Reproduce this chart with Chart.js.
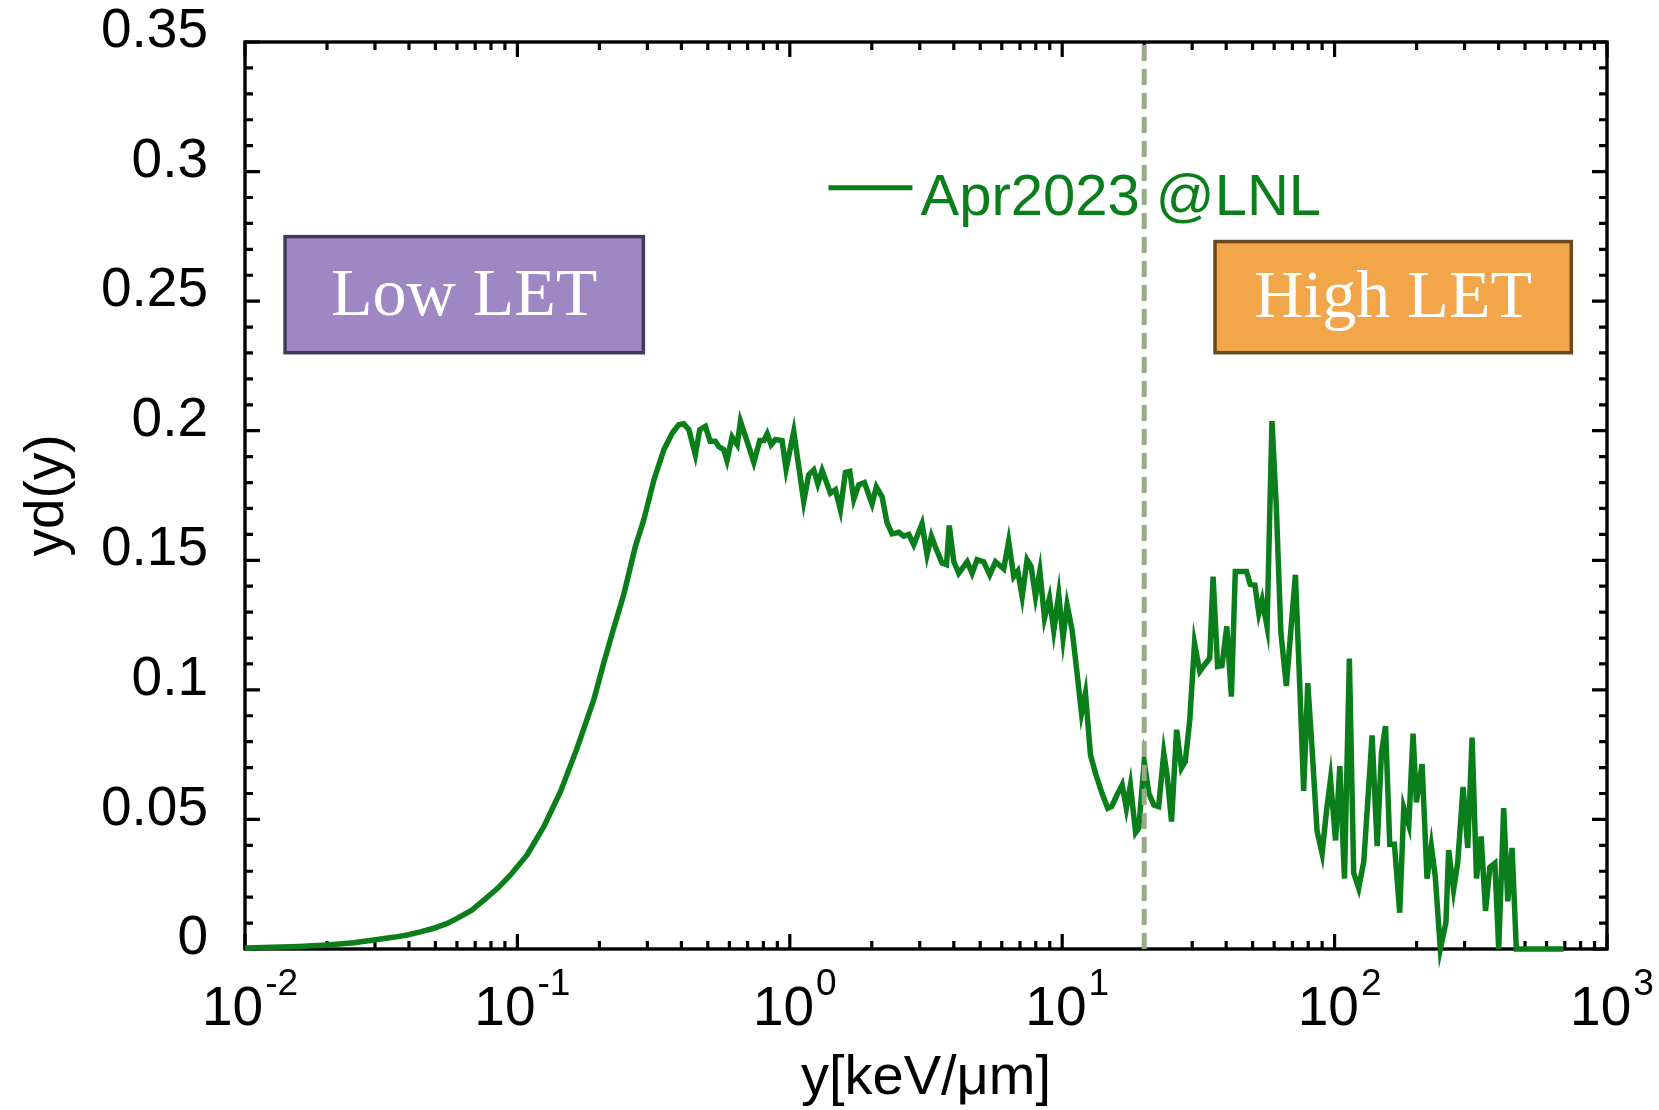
<!DOCTYPE html>
<html>
<head>
<meta charset="utf-8">
<script src="https://cdn.jsdelivr.net/npm/chart.js@4.4.1/dist/chart.umd.min.js"></script>
<style>
html,body{margin:0;padding:0;background:#ffffff;overflow:hidden;}
#wrap{width:1659px;height:1110px;position:relative;}
</style>
</head>
<body>
<div id="wrap"><canvas id="c"></canvas></div>
<script>
// ---------------- data ----------------
const seriesLabel = 'Apr2023 @LNL';
const xTitle = 'y[keV/\u03bcm]';
const yTitle = 'yd(y)';
const lowLabel = 'Low LET';
const highLabel = 'High LET';
const thresholdY = 20; // keV/um boundary (dashed line)

// lineal energy y [keV/um]
const lineal = [
  0.0100,0.0126,0.0158,0.0200,0.0251,0.0297,0.0350,0.0394,0.0440,0.0493,
  0.0550,0.0601,0.0680,0.0753,0.0850,0.0943,0.1085,0.1250,0.1439,0.1656,
  0.1906,0.2073,0.2260,0.2460,0.2710,0.2910,0.3170,0.3450,0.3700,0.3910,
  0.4080,0.4260,0.450,0.467,0.490,0.510,0.533,0.548,0.572,0.588,
  0.614,0.641,0.659,0.697,0.738,0.776,0.803,0.826,0.854,0.886,
  0.937,0.969,1.034,1.125,1.173,1.224,1.267,1.314,1.410,1.470,
  1.534,1.600,1.660,1.718,1.791,1.879,2.004,2.079,2.182,2.276,
  2.373,2.512,2.619,2.735,2.851,3.058,3.190,3.310,3.420,3.620,
  3.760,3.850,4.000,4.170,4.480,4.670,4.870,5.150,5.420,5.690,
  6.100,6.360,6.640,6.870,7.130,7.430,7.690,7.980,8.280,8.610,
  8.980,9.310,9.710,10.07,10.42,10.87,11.34,11.77,12.17,12.70,
  13.25,14.00,14.70,15.20,15.90,16.60,17.20,17.80,18.60,19.10,
  20.00,20.80,21.70,22.60,23.60,24.30,25.20,26.30,27.40,28.30,
  29.40,30.60,32.00,33.30,34.80,35.80,37.20,38.60,40.20,41.80,
  43.20,45.40,47.50,49.00,51.00,52.70,54.20,56.50,58.90,61.10,
  63.50,66.50,71.80,74.50,77.00,79.70,82.60,86.20,90.00,93.30,
  96.60,100.8,104.5,108.7,113.3,117.5,122.6,128.0,137.3,143.3,
  148.6,153.8,159.4,165.8,173.4,179.4,187.2,194.1,199.6,209.5,
  218.4,226.5,234.2,244.4,256.3,262.2,273.4,283.0,296.2,308.1,
  319.7,331.8,345.1,358.1,371.6,387.5,400.4,417.6,432.2,448.2,
  464.6,520.0,600.0,693.0
];

// y*d(y)
const ydy = [
  0.0004,0.0007,0.0010,0.0015,0.0024,0.0035,0.0045,0.0054,0.0066,0.0080,
  0.0098,0.0118,0.0150,0.0189,0.0236,0.0286,0.0363,0.0472,0.0607,0.0775,
  0.0961,0.1103,0.1240,0.1370,0.1553,0.1656,0.1810,0.1927,0.1990,0.2023,
  0.2027,0.2004,0.1907,0.2004,0.2017,0.1959,0.1959,0.1939,0.1927,0.1885,
  0.1976,0.1946,0.2036,0.1959,0.1878,0.1962,0.1962,0.1988,0.1946,0.1966,
  0.1962,0.1852,0.1997,0.1727,0.1830,0.1849,0.1795,0.1847,0.1759,0.1772,
  0.1695,0.1839,0.1843,0.1736,0.1791,0.1800,0.1718,0.1783,0.1744,0.1644,
  0.1602,0.1608,0.1593,0.1600,0.1560,0.1641,0.1521,0.1593,0.1553,0.1489,
  0.1483,0.1634,0.1495,0.1450,0.1494,0.1450,0.1502,0.1494,0.1444,0.1494,
  0.1467,0.1573,0.1437,0.1458,0.1360,0.1502,0.1476,0.1360,0.1458,0.1277,
  0.1354,0.1229,0.1367,0.1200,0.1328,0.1232,0.1064,0.0910,0.0987,0.0749,
  0.0678,0.0601,0.0543,0.0550,0.0595,0.0633,0.0543,0.0632,0.0449,0.0466,
  0.0723,0.0601,0.0556,0.0550,0.0756,0.0666,0.0492,0.0846,0.0698,0.0723,
  0.0884,0.1180,0.1071,0.1096,0.1122,0.1437,0.1090,0.1093,0.1245,0.0974,
  0.1457,0.1457,0.1457,0.1407,0.1404,0.1295,0.1346,0.1244,0.2037,0.1706,
  0.1221,0.1015,0.1444,0.1015,0.0610,0.1026,0.0779,0.0456,0.0368,0.0529,
  0.0654,0.0419,0.0706,0.0272,0.1121,0.0294,0.0235,0.0338,0.0824,0.0397,
  0.0757,0.0860,0.0404,0.0404,0.0140,0.0544,0.0478,0.0831,0.0566,0.0713,
  0.0272,0.0397,0.0279,0.0000,0.0103,0.0382,0.0228,0.0331,0.0625,0.0390,
  0.0816,0.0272,0.0434,0.0147,0.0316,0.0331,0.0000,0.0544,0.0184,0.0390,
  0.0000,0.0000,0.0000,0.0000
];

const yTickValues = [0, 0.05, 0.1, 0.15, 0.2, 0.25, 0.3, 0.35];
const yTickLabels = ['0', '0.05', '0.1', '0.15', '0.2', '0.25', '0.3', '0.35'];
const xTickExponents = ['-2', '-1', '0', '1', '2', '3'];

// ---------------- styling / layout (not data) ----------------
const GREEN = '#0a7e1a';
const SANS = "'Liberation Sans', Arial, sans-serif";
const SERIF = "'Liberation Serif', 'Times New Roman', serif";
const annot = {
  low:  {x0: 0.01403, x1: 0.290, y0: 0.2301, y1: 0.2749, fill: '#9e87c3', stroke: '#45395a'},
  high: {x0: 36.4,    x1: 739.6, y0: 0.2301, y1: 0.2730, fill: '#f2a649', stroke: '#6a4a1f'},
  legend: {x0: 1.386, x1: 2.82, y: 0.2938}
};

const decorations = {
  id: 'decorations',
  beforeDatasetsDraw(chart) {
    const {ctx, chartArea: a, scales: {x, y}} = chart;
    ctx.save();
    ctx.strokeStyle = '#000';
    ctx.lineWidth = 3.2;
    ctx.lineCap = 'butt';
    const major = 15, minor = 8;
    ctx.beginPath();
    for (let e = -2; e <= 3; e++) {
      for (let m = 1; m <= 9; m++) {
        const v = m * Math.pow(10, e);
        if (v > 1000 * 1.0001) continue;
        const px = x.getPixelForValue(v);
        const L = (m === 1) ? major : minor;
        ctx.moveTo(px, a.bottom); ctx.lineTo(px, a.bottom - L);
        ctx.moveTo(px, a.top); ctx.lineTo(px, a.top + L);
      }
    }
    for (let i = 0; i <= 35; i++) {
      const py = y.getPixelForValue(i / 100);
      const L = (i % 5 === 0) ? major : minor;
      ctx.moveTo(a.left, py); ctx.lineTo(a.left + L, py);
      ctx.moveTo(a.right, py); ctx.lineTo(a.right - L, py);
    }
    ctx.stroke();
    ctx.lineWidth = 3.4;
    ctx.strokeRect(a.left, a.top, a.right - a.left, a.bottom - a.top);
    ctx.restore();

    // x tick labels 10^n
    ctx.save();
    ctx.fillStyle = '#000';
    ctx.textBaseline = 'alphabetic';
    ctx.textAlign = 'left';
    xTickExponents.forEach(ex => {
      const px = x.getPixelForValue(Math.pow(10, Number(ex)));
      ctx.font = '55px ' + SANS;
      const wb = ctx.measureText('10').width;
      ctx.font = '37px ' + SANS;
      const we = ctx.measureText(ex).width;
      const start = px - (wb + 2 + we) / 2 + 5;
      ctx.font = '55px ' + SANS;
      ctx.fillText('10', start, a.bottom + 76);
      ctx.font = '37px ' + SANS;
      ctx.fillText(ex, start + wb + 2, a.bottom + 46);
    });
    ctx.restore();
  },
  afterDatasetsDraw(chart) {
    const {ctx, chartArea: a, scales: {x, y}} = chart;
    // dashed threshold line
    ctx.save();
    const tx = x.getPixelForValue(thresholdY);
    ctx.strokeStyle = '#97ab89';
    ctx.lineWidth = 5;
    ctx.setLineDash([16, 8]);
    ctx.beginPath();
    ctx.moveTo(tx, a.bottom);
    ctx.lineTo(tx, a.top);
    ctx.stroke();
    ctx.restore();

    // annotation boxes
    const box = (b, text) => {
      const l = x.getPixelForValue(b.x0), r = x.getPixelForValue(b.x1);
      const t = y.getPixelForValue(b.y1), btm = y.getPixelForValue(b.y0);
      ctx.save();
      ctx.fillStyle = b.fill;
      ctx.fillRect(l, t, r - l, btm - t);
      ctx.strokeStyle = b.stroke;
      ctx.lineWidth = 3.5;
      ctx.strokeRect(l, t, r - l, btm - t);
      ctx.fillStyle = '#ffffff';
      ctx.font = '68px ' + SERIF;
      ctx.textAlign = 'center';
      ctx.textBaseline = 'middle';
      ctx.fillText(text, (l + r) / 2, (t + btm) / 2 + 2);
      ctx.restore();
    };
    box(annot.low, lowLabel);
    box(annot.high, highLabel);

    // legend
    ctx.save();
    const lx0 = x.getPixelForValue(annot.legend.x0), lx1 = x.getPixelForValue(annot.legend.x1);
    const ly = y.getPixelForValue(annot.legend.y);
    ctx.strokeStyle = GREEN;
    ctx.lineWidth = 5;
    ctx.beginPath();
    ctx.moveTo(lx0, ly); ctx.lineTo(lx1, ly);
    ctx.stroke();
    ctx.fillStyle = GREEN;
    ctx.font = '58px ' + SANS;
    ctx.textAlign = 'left';
    ctx.textBaseline = 'alphabetic';
    ctx.fillText(chart.data.datasets[0].label, lx1 + 8, ly + 27);
    ctx.restore();
  }
};

const points = lineal.map((v, i) => ({x: v, y: ydy[i]}));

new Chart(document.getElementById('c'), {
  type: 'line',
  data: {
    datasets: [{
      label: seriesLabel,
      data: points,
      borderColor: GREEN,
      backgroundColor: GREEN,
      borderWidth: 5.5,
      pointRadius: 0,
      tension: 0,
      fill: false,
      borderJoinStyle: 'miter',
      clip: false
    }]
  },
  options: {
    responsive: true,
    maintainAspectRatio: false,
    animation: false,
    events: [],
    layout: {padding: {left: 0, right: 52, top: 42, bottom: 0}},
    plugins: {legend: {display: false}, tooltip: {enabled: false}},
    scales: {
      x: {
        type: 'logarithmic',
        position: 'bottom',
        min: 0.01,
        max: 1000,
        grid: {display: false, drawTicks: false},
        border: {display: false},
        ticks: {display: false},
        title: {
          display: true,
          text: xTitle,
          color: '#000',
          font: {family: SANS, size: 56, lineHeight: 1},
          padding: {top: 0, bottom: 3}
        },
        afterFit(s) { s.height = 161; s.paddingLeft = 0; s.paddingRight = 0; }
      },
      y: {
        type: 'linear',
        position: 'left',
        min: 0,
        max: 0.35,
        grid: {display: false, drawTicks: false},
        border: {display: false},
        afterBuildTicks(s) { s.ticks = yTickValues.map(v => ({value: v})); },
        ticks: {
          color: '#000',
          font: {family: SANS, size: 55},
          padding: 37,
          labelOffset: -10,
          autoSkip: false,
          callback: (v) => {
            const i = yTickValues.findIndex(t => Math.abs(t - v) < 1e-9);
            return i >= 0 ? yTickLabels[i] : '';
          }
        },
        title: {
          display: true,
          text: yTitle,
          color: '#000',
          font: {family: SANS, size: 55, lineHeight: 1},
          padding: {top: 20, bottom: 0}
        },
        afterFit(s) { s.width = 245; s.paddingTop = 0; s.paddingBottom = 0; }
      }
    }
  },
  plugins: [decorations]
});
</script>
</body>
</html>
